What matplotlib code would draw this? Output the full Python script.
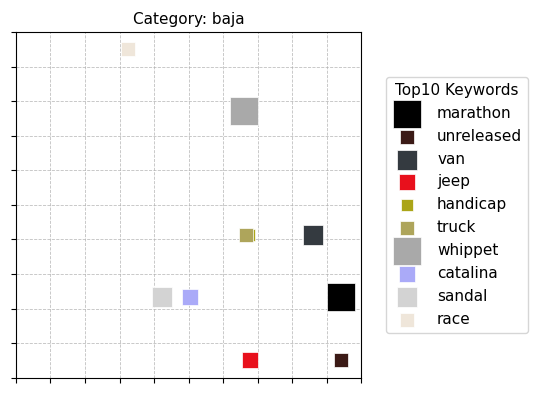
import numpy as np
import matplotlib
matplotlib.use("Agg")
import matplotlib.pyplot as plt

# keyword data
keywords = ['marathon', 'unreleased', 'van', 'jeep', 'handicap', 'truck',
            'whippet', 'catalina', 'sandal', 'race']
x_vals = [9.42, 9.42, 8.60, 6.78, 6.76, 6.68, 6.62, 5.05, 4.23, 3.24]
y_vals = [2.33, 0.51, 4.12, 0.51, 4.12, 4.12, 7.73, 2.33, 2.33, 9.52]
sizes = [380, 95, 190, 140, 80, 100, 410, 140, 220, 110]
colors = ['#000000', '#3b1a16', '#343a40', '#e8101c', '#aba518', '#aea55b',
          '#a9a9a9', '#aaaaf8', '#d3d3d3', '#efe6da']

fig = plt.figure(figsize=(5.4, 3.94), dpi=100)
ax = fig.add_axes([0.0296, 0.0414, 0.639, 0.877])

for kw, x, y, s, c in zip(keywords, x_vals, y_vals, sizes, colors):
    ax.scatter(x, y, s=s, c=c, marker='s', label=kw, edgecolors='white',
               linewidths=0.5, zorder=3)

ax.set_xlim(0, 10)
ax.set_ylim(0, 10)
ax.set_xticks(np.arange(0, 11, 1))
ax.set_yticks(np.arange(0, 11, 1))
ax.set_xticklabels([])
ax.set_yticklabels([])
ax.grid(True, linestyle='--', linewidth=0.6, color='#b0b0b0', alpha=0.8)
ax.set_title('Category: baja', fontsize=11)

ax.legend(title='Top10 Keywords', loc='center left', bbox_to_anchor=(1.05, 0.5),
          fontsize=11, title_fontsize=11, scatterpoints=1,
          handletextpad=0.95, labelspacing=0.52)

plt.savefig('out.png', dpi=100)
